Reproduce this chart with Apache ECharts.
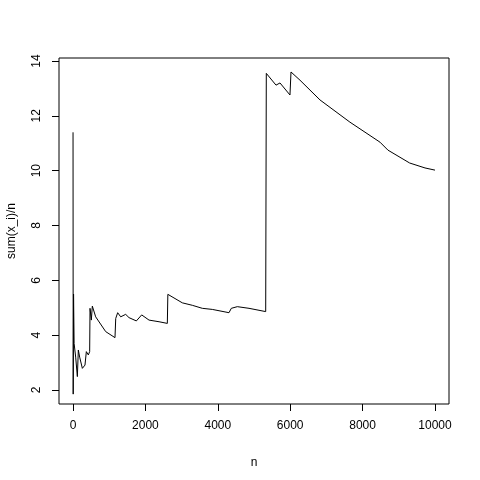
<!DOCTYPE html>
<html>
<head>
<meta charset="utf-8">
<script src="https://cdn.jsdelivr.net/npm/echarts@6/dist/echarts.min.js"></script>
<style>body{margin:0;background:#fff}#c{width:480px;height:480px}</style>
</head>
<body>
<div id="c"></div>
<script>
// running mean
var nVals = [1, 5, 15, 30, 74, 120, 147, 184, 258, 331, 368, 423, 460, 470, 506, 534, 626, 903, 1160, 1180, 1234, 1317, 1455, 1547, 1750, 1897, 2100, 2376, 2606, 2620, 3020, 3296, 3572, 3848, 4309, 4373, 4539, 4862, 5323, 5340, 5608, 5718, 5994, 6022, 6271, 6823, 7650, 8480, 8700, 8730, 9300, 9724, 9740, 10000];
var meanVals = [11.4, 1.85, 5.5, 3.7, 3.2, 2.49, 3.46, 3.2, 2.79, 2.91, 3.4, 3.28, 3.4, 4.98, 4.55, 5.06, 4.67, 4.13, 3.91, 4.61, 4.82, 4.67, 4.76, 4.64, 4.52, 4.74, 4.55, 4.49, 4.43, 5.49, 5.18, 5.09, 4.98, 4.94, 4.82, 4.98, 5.04, 4.98, 4.86, 13.55, 13.12, 13.2, 12.76, 13.6, 13.3, 12.58, 11.77, 11.04, 10.75, 10.68, 10.28, 10.1, 10.16, 10.02];
var xTicks = [0, 2000, 4000, 6000, 8000, 10000];
var yTicks = [2, 4, 6, 8, 10, 12, 14];

var chart = echarts.init(document.getElementById('c'));
var pts = nVals.map(function (n, i) { return [n, meanVals[i]]; });
var font = 'Liberation Sans, Arial, sans-serif';
chart.setOption({
  animation: false,
  grid: {left: 59, right: 31, top: 58, bottom: 76, show: true, borderColor: '#000', borderWidth: 1,
    containLabel: false, outerBoundsMode: 'none'},
  xAxis: {
    type: 'value', min: -387, max: 10387,
    name: 'n', nameLocation: 'middle', nameGap: 53,
    nameTextStyle: {color: '#000', fontSize: 12, fontFamily: font},
    splitLine: {show: false}, axisLine: {show: false, onZero: false},
    axisTick: {show: true, inside: false, length: 7, customValues: xTicks, lineStyle: {color: '#000'}},
    axisLabel: {customValues: xTicks, color: '#000', fontSize: 12, margin: 16, fontFamily: font,
      formatter: function (v) { return String(v); }}
  },
  yAxis: {
    type: 'value', min: 1.49, max: 14.11,
    name: 'sum(x_i)/n', nameLocation: 'middle', nameGap: 41, nameRotate: 90,
    nameTextStyle: {color: '#000', fontSize: 12, fontFamily: font},
    splitLine: {show: false}, axisLine: {show: false, onZero: false},
    axisTick: {show: true, inside: false, length: 7, customValues: yTicks, lineStyle: {color: '#000'}},
    axisLabel: {customValues: yTicks, color: '#000', fontSize: 12, margin: 16, rotate: 90, fontFamily: font}
  },
  series: [{
    type: 'line', data: pts, showSymbol: false,
    lineStyle: {color: '#000', width: 1}
  }]
});
</script>
</body>
</html>
